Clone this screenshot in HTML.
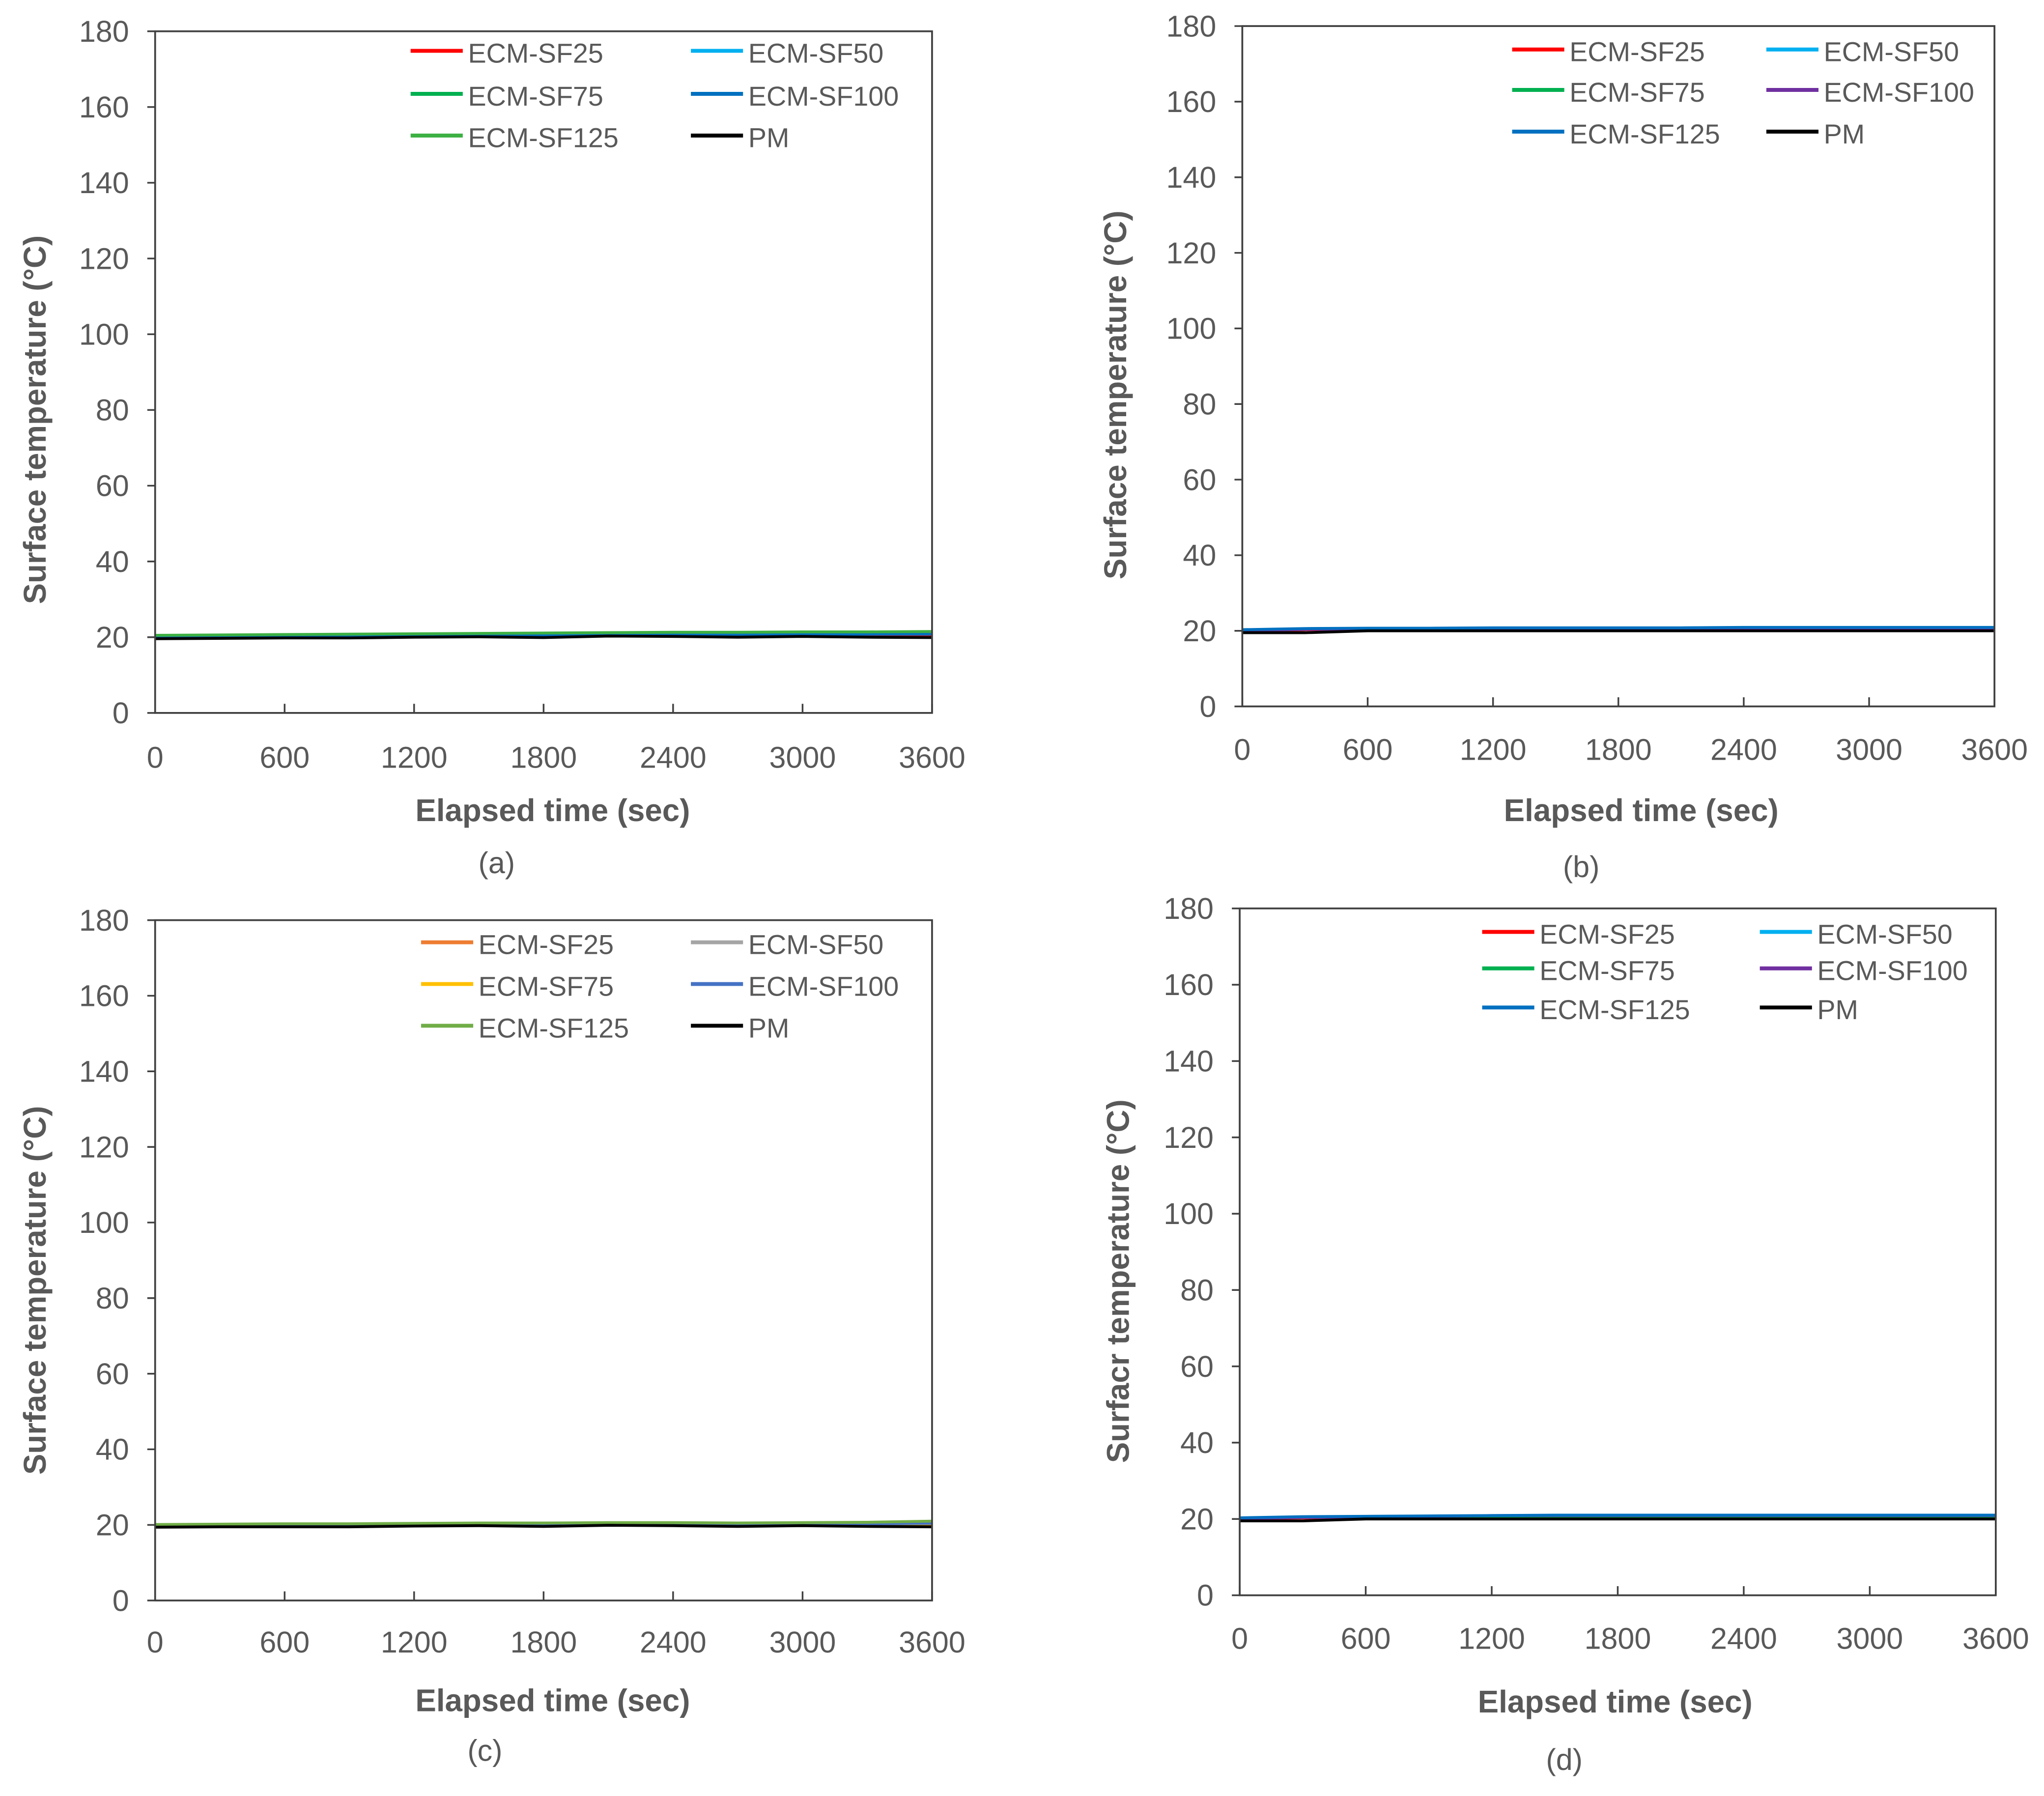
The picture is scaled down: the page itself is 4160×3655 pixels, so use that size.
<!DOCTYPE html>
<html><head><meta charset="utf-8"><style>
html,body{margin:0;padding:0;background:#fff;}
svg{display:block;}
text{font-family:"Liberation Sans","Noto Sans CJK KR",sans-serif;fill:#595959;}
</style></head><body>
<svg id="fig" width="4160" height="3655" viewBox="0 0 1568 1378" preserveAspectRatio="none" xmlns="http://www.w3.org/2000/svg"></svg>
<script>
const times = [0,300,600,900,1200,1500,1800,2100,2400,2700,3000,3300,3600];
const yTicks = [0,20,40,60,80,100,120,140,160,180];
const xTicks = [0,600,1200,1800,2400,3000,3600];
const seriesNames = ["ECM-SF25","ECM-SF50","ECM-SF75","ECM-SF100","ECM-SF125","PM"];
// panel a values
const aSF25 = [19.8,19.8,19.9,19.9,20.1,20.2,20.2,20.4,20.4,20.3,20.4,20.3,20.3];
const aSF50 = [20.3,20.4,20.5,20.5,20.6,20.7,20.8,20.9,20.9,20.9,21.0,21.0,21.0];
const aSF75 = [20.4,20.5,20.6,20.7,20.8,20.9,21.0,21.1,21.2,21.2,21.3,21.3,21.4];
const aSF100 = [20.2,20.3,20.4,20.4,20.5,20.5,20.6,20.7,20.7,20.7,20.8,20.8,20.8];
const aSF125 = [20.5,20.6,20.7,20.8,20.9,21.0,21.1,21.2,21.3,21.3,21.4,21.4,21.5];
const aPM = [19.6,19.7,19.8,19.8,20.0,20.1,19.9,20.3,20.2,20.0,20.2,20.0,19.9];
// panel b values
const bSF25 = [20.0,20.3,20.4,20.4,20.4,20.4,20.5,20.5,20.5,20.5,20.5,20.5,20.5];
const bSF50 = [20.2,20.5,20.6,20.6,20.6,20.7,20.7,20.7,20.7,20.7,20.8,20.8,20.8];
const bSF75 = [20.1,20.4,20.5,20.5,20.5,20.6,20.6,20.6,20.6,20.6,20.6,20.6,20.6];
const bSF100 = [20.1,20.4,20.5,20.6,20.6,20.6,20.7,20.7,20.7,20.7,20.7,20.7,20.7];
const bSF125 = [20.3,20.6,20.7,20.7,20.8,20.8,20.8,20.8,20.9,20.9,20.9,20.9,20.9];
const bPM = [19.5,19.5,20.0,20.0,20.0,20.0,20.0,20.0,20.0,20.0,20.0,20.0,20.0];
// panel c values
const cSF25 = [19.6,19.6,19.7,19.7,19.9,20.0,19.9,20.1,20.1,20.0,20.1,20.0,20.0];
const cSF50 = [19.9,20.0,20.1,20.1,20.2,20.3,20.3,20.4,20.4,20.3,20.4,20.4,20.5];
const cSF75 = [19.7,19.8,19.9,19.9,20.0,20.1,20.1,20.2,20.2,20.1,20.2,20.2,20.3];
const cSF100 = [19.8,19.9,20.0,20.0,20.1,20.2,20.2,20.3,20.3,20.2,20.3,20.3,20.4];
const cSF125 = [20.1,20.2,20.3,20.3,20.4,20.5,20.5,20.6,20.6,20.5,20.6,20.7,21.0];
const cPM = [19.4,19.5,19.5,19.5,19.7,19.8,19.6,19.9,19.8,19.6,19.8,19.6,19.5];
// panel d values
const dSF25 = [20.0,20.3,20.4,20.4,20.4,20.5,20.5,20.5,20.5,20.5,20.5,20.5,20.5];
const dSF50 = [20.2,20.5,20.6,20.6,20.7,20.7,20.7,20.8,20.8,20.8,20.8,20.8,20.8];
const dSF75 = [20.1,20.4,20.5,20.5,20.5,20.6,20.6,20.6,20.6,20.6,20.6,20.6,20.6];
const dSF100 = [20.1,20.4,20.5,20.7,20.9,20.9,20.9,20.9,20.9,20.9,20.9,20.9,20.9];
const dSF125 = [20.3,20.6,20.7,20.8,20.9,21.0,21.0,21.0,21.0,21.0,21.0,21.0,21.0];
const dPM = [19.5,19.5,20.0,20.0,20.0,20.0,20.0,20.0,20.0,20.0,20.0,20.0,20.0];

const NS="http://www.w3.org/2000/svg";
const svg=document.getElementById('fig');
function mk(tag,attrs,parent){const e=document.createElementNS(NS,tag);for(const k in attrs)e.setAttribute(k,attrs[k]);(parent||svg).appendChild(e);return e;}

const panels=[
 {id:'a',x0:119,x1:715,y0:24,y1:547,tickY:581,titleY:622,titleX:424,ylabX:27,ylabY:322,ylabel:"Surface temperature (°C)",cap:"(a)",capX:381,capY:662,
  colors:["#ff0000","#00b0f0","#00b050","#0070c0","#3cb043","#000000"],data:[aSF25,aSF50,aSF75,aSF100,aSF125,aPM],
  leg:{c1:315,c2:530,rows:[42,75,107]}},
 {id:'b',x0:953,x1:1530,y0:20,y1:542,tickY:575,titleY:622,titleX:1259,ylabX:856,ylabY:303,ylabel:"Surface temperature (°C)",cap:"(b)",capX:1213,capY:665,
  colors:["#ff0000","#00b0f0","#00b050","#7030a0","#0070c0","#000000"],data:[bSF25,bSF50,bSF75,bSF100,bSF125,bPM],
  leg:{c1:1160,c2:1355,rows:[41,72,104]}},
 {id:'c',x0:119,x1:715,y0:706,y1:1228,tickY:1260,titleY:1305,titleX:424,ylabX:27,ylabY:990,ylabel:"Surface temperature (°C)",cap:"(c)",capX:372,capY:1343,
  colors:["#ed7d31","#a5a5a5","#ffc000","#4472c4","#70ad47","#000000"],data:[cSF25,cSF50,cSF75,cSF100,cSF125,cPM],
  leg:{c1:323,c2:530,rows:[726,758,790]}},
 {id:'d',x0:951,x1:1531,y0:697,y1:1224,tickY:1257,titleY:1306,titleX:1239,ylabX:858,ylabY:983,ylabel:"Surfacr temperature (°C)",cap:"(d)",capX:1200,capY:1350,
  colors:["#ff0000","#00b0f0","#00b050","#7030a0","#0070c0","#000000"],data:[dSF25,dSF50,dSF75,dSF100,dSF125,dPM],
  leg:{c1:1137,c2:1350,rows:[718,746,776]}}
];

panels.forEach(p=>{
 const g=mk('g',{});
 
 
 const xs=v=>p.x0+(v-0)/(3600-0)*(p.x1-p.x0);
 const ys=v=>p.y1-(v-0)/(180-0)*(p.y1-p.y0);
 p.data.forEach((vals,i)=>{
  const pts=vals.map((v,j)=>xs(times[j]).toFixed(2)+','+ys(v).toFixed(2)).join(' ');
  const pl=mk('polyline',{points:pts,fill:'none',stroke:p.colors[i],'stroke-width':2.2},g);
  
  
 });
 const fr=mk('rect',{x:p.x0,y:p.y0,width:p.x1-p.x0,height:p.y1-p.y0,fill:'none',stroke:'#404040','stroke-width':1.4},g);
 
 
 yTicks.forEach(t=>{
  const y=ys(t);
  mk('line',{x1:p.x0-6,x2:p.x0,y1:y,y2:y,stroke:'#404040','stroke-width':1.3},g);
  const tx=mk('text',{x:p.x0-20,y:y+8,'text-anchor':'end','font-size':23},g);
  tx.textContent=t;
  
  
 });
 xTicks.forEach(t=>{
  const x=xs(t);
  mk('line',{x1:x,x2:x,y1:p.y1,y2:p.y1-7,stroke:'#404040','stroke-width':1.3},g);
  const tx=mk('text',{x:x,y:p.tickY+8,'text-anchor':'middle','font-size':23},g);
  tx.textContent=t;
  
  
 });
 const xt=mk('text',{x:p.titleX,y:p.titleY+8,'text-anchor':'middle','font-size':24,'font-weight':'bold'},g);
 xt.textContent="Elapsed time (sec)";
 
 
 const cy=p.ylabY;
 const yt=mk('text',{x:p.ylabX+8,y:cy,'text-anchor':'middle','font-size':24,'font-weight':'bold',transform:`rotate(-90 ${p.ylabX+8} ${cy})`},g);
 yt.textContent=p.ylabel;
 
 
 const cp=mk('text',{x:p.capX,y:p.capY+8,'text-anchor':'middle','font-size':23},g);
 cp.textContent=p.cap;
 
 
 seriesNames.forEach((n,i)=>{
  const col=i%2===0?p.leg.c1:p.leg.c2, row=p.leg.rows[Math.floor(i/2)];
  const lg=mk('g',{},g);
  
  
  mk('line',{x1:col,x2:col+40,y1:row-3,y2:row-3,stroke:p.colors[i],'stroke-width':3},lg);
  const lt=mk('text',{x:col+44,y:row+6,'font-size':21},lg);
  lt.textContent=n;
 });
});
</script>
</body></html>
